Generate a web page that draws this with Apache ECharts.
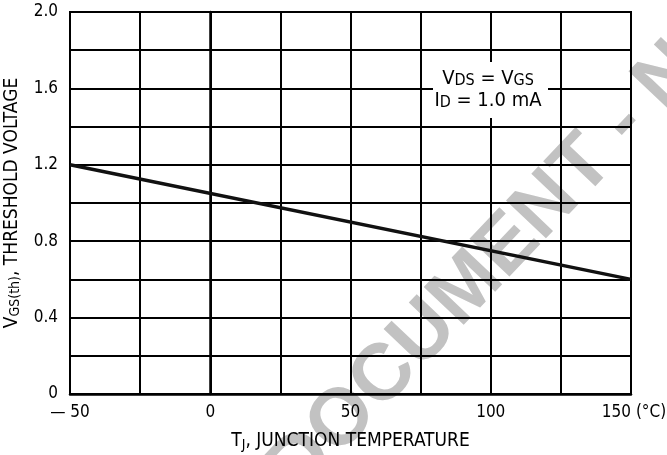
<!DOCTYPE html>
<html>
<head>
<meta charset="utf-8">
<title>Threshold Voltage vs Junction Temperature</title>
<script src="https://cdn.jsdelivr.net/npm/echarts@6/dist/echarts.min.js"></script>
<style>
  html, body { margin: 0; padding: 0; background: #fff; }
  #chart { width: 667px; height: 455px; }
</style>
</head>
<body>
<div id="chart"></div>
<script>
// values
const tempC = [-50, 150];
const vgsTh = [1.2, 0.6];

// labelled ticks (grid lines are every 25 °C / 0.2 V)
const xTicks = [-50, 0, 50, 100, 150];
const xTickLabels = ['\u2014 50', '0', '50', '100', '{u|150 (°C)}'];
const yTicks = [0, 0.4, 0.8, 1.2, 1.6, 2.0];
const yTickLabels = ['0', '0.4', '0.8', '1.2', '1.6', '2.0'];

// watermark letters and their spacing along the slanted baseline (px)
const markLetters = ['D', 'O', 'C', 'U', 'M', 'E', 'N', 'T', '-', 'N'];
const markOffsets = [-60, 0, 60, 118, 180, 240, 295, 349, 409, 473];

const narrow = '"DejaVu Sans Condensed", "Liberation Sans", sans-serif';

let chartDom = document.getElementById('chart');
let myChart = echarts.init(chartDom);
let option;

// watermark: one text element per letter, rotated 46.5 deg
const ang = 46.5 * Math.PI / 180;
const watermark = markLetters.map((ch, i) => ({
  type: 'text',
  z: -1,
  x: 343 + markOffsets[i] * Math.cos(ang),
  y: 420 - markOffsets[i] * Math.sin(ang),
  rotation: ang,
  style: {
    text: ch,
    align: 'center',
    verticalAlign: 'middle',
    fontFamily: '"Liberation Sans", Arial, sans-serif',
    fontWeight: 'bold',
    fontSize: 80,
    fill: '#c2c2c2'
  }
}));

option = {
  animation: false,
  backgroundColor: '#fff',
  grid: {
    left: 70,
    right: 36,
    top: 12,
    bottom: 61,
    outerBoundsMode: 'none',
    show: true,
    borderColor: '#000',
    borderWidth: 2
  },
  xAxis: {
    type: 'value',
    min: -50,
    max: 150,
    interval: 25,
    name: '{n|T}{s|J}{n|, JUNCTION TEMPERATURE}',
    nameLocation: 'middle',
    nameGap: 36,
    nameTextStyle: {
      color: '#000',
      rich: {
        n: { fontFamily: narrow, fontSize: 19, lineHeight: 22, color: '#000' },
        s: { fontFamily: narrow, fontSize: 14, lineHeight: 13, verticalAlign: 'bottom', color: '#000' }
      }
    },
    axisLine: { show: true, lineStyle: { color: '#000', width: 2.5 } },
    axisTick: { show: false },
    splitLine: { show: true, lineStyle: { color: '#000', width: 2 } },
    axisLabel: {
      margin: 10,
      color: '#000',
      fontFamily: narrow,
      fontSize: 17,
      formatter: function (v) {
        let i = xTicks.indexOf(v);
        return i < 0 ? '' : xTickLabels[i];
      },
      rich: {
        u: { fontFamily: narrow, fontSize: 17, color: '#000', padding: [0, 0, 0, 6] }
      }
    }
  },
  yAxis: {
    type: 'value',
    min: 0,
    max: 2.0,
    interval: 0.2,
    name: '{n|V}{s|GS(th)}{n|, THRESHOLD VOLTAGE}',
    nameLocation: 'middle',
    nameGap: 44,
    nameTextStyle: {
      color: '#000',
      rich: {
        n: { fontFamily: narrow, fontSize: 19, lineHeight: 22, color: '#000' },
        s: { fontFamily: narrow, fontSize: 14, lineHeight: 13, verticalAlign: 'bottom', color: '#000' }
      }
    },
    axisLine: { show: true, lineStyle: { color: '#000', width: 2.5 } },
    axisTick: { show: false },
    splitLine: { show: true, lineStyle: { color: '#000', width: 2 } },
    axisLabel: {
      margin: 12,
      color: '#000',
      fontFamily: narrow,
      fontSize: 17,
      formatter: function (v) {
        let i = yTicks.findIndex(t => Math.abs(t - v) < 1e-6);
        return i < 0 ? '' : yTickLabels[i];
      }
    }
  },
  series: [
    {
      type: 'line',
      data: tempC.map((t, i) => [t, vgsTh[i]]),
      showSymbol: false,
      lineStyle: { color: '#111', width: 3.5 },
      z: 3
    }
  ],
  graphic: watermark.concat([
    // test condition box, blanks out the grid behind it
    {
      type: 'rect',
      z: 1,
      shape: { x: 433, y: 62, width: 115, height: 56 },
      style: { fill: '#fff' }
    },
    {
      type: 'text',
      z: 2,
      x: 488,
      y: 79,
      style: {
        text: '{v|V}{s|DS}{v| = V}{s|GS}',
        align: 'center',
        verticalAlign: 'middle',
        rich: {
          v: { fontFamily: narrow, fontSize: 20, lineHeight: 20, fill: '#000' },
          s: { fontFamily: narrow, fontSize: 16, lineHeight: 14, verticalAlign: 'bottom', fill: '#000' }
        }
      }
    },
    {
      type: 'text',
      z: 2,
      x: 488,
      y: 101,
      style: {
        text: '{v|I}{s|D}{v| = 1.0 mA}',
        align: 'center',
        verticalAlign: 'middle',
        rich: {
          v: { fontFamily: narrow, fontSize: 20, lineHeight: 20, fill: '#000' },
          s: { fontFamily: narrow, fontSize: 16, lineHeight: 14, verticalAlign: 'bottom', fill: '#000' }
        }
      }
    }
  ])
};

option && myChart.setOption(option);
</script>
</body>
</html>
